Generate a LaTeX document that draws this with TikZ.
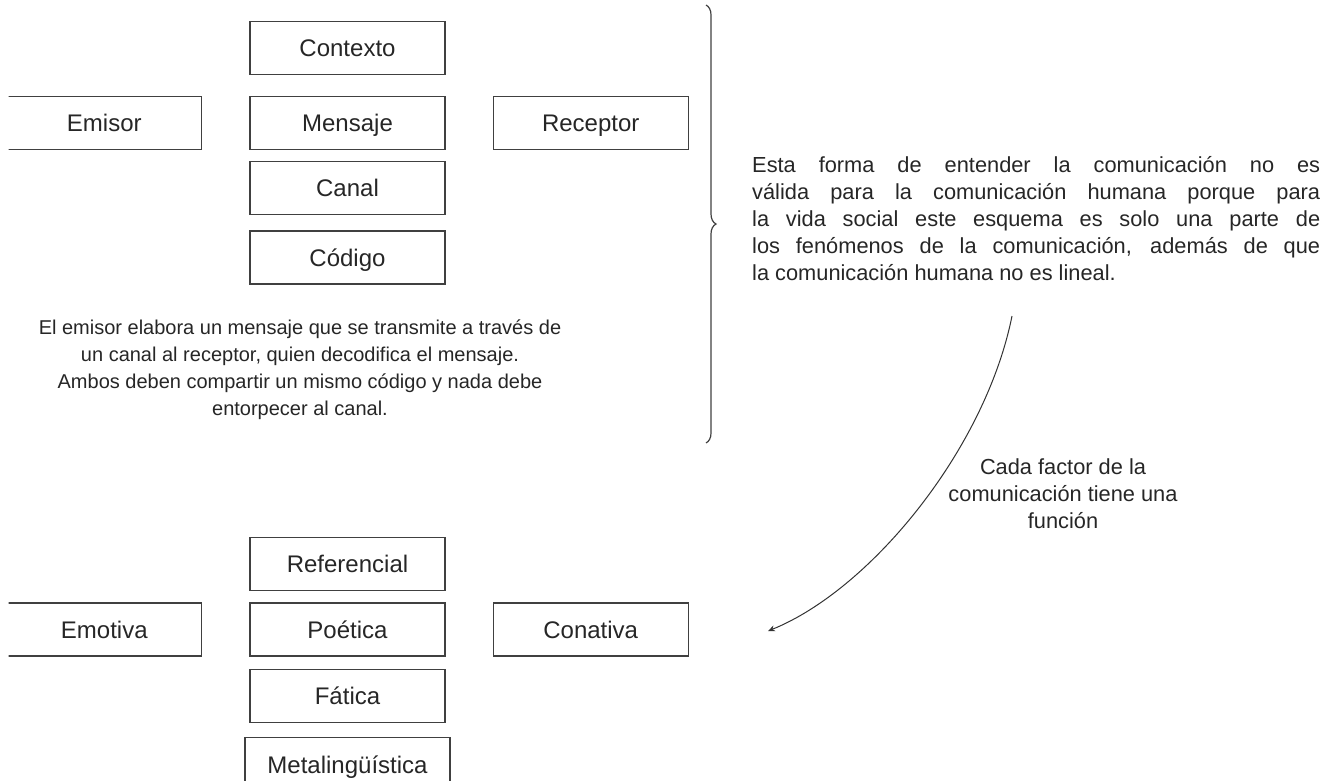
\documentclass[tikz,border=0pt]{standalone}
\usepackage{fontspec}
\setmainfont{Liberation Sans}
\usetikzlibrary{arrows.meta,positioning,decorations.pathreplacing}

\begin{document}
\begin{tikzpicture}[
  x=1pt, y=-1pt,
  node distance=11pt and 47pt,
  every node/.style={text=black!85, font=\fontsize{20}{27}\selectfont},
  factor/.style={draw=black!75, line width=1.2pt, minimum width=195pt, minimum height=53pt, inner sep=0pt,
    font=\fontsize{24}{27}\selectfont, text height=17.2pt, text depth=0pt},
  note/.style={align=center, inner sep=0pt},
  flow/.style={-{Stealth[length=7pt, width=6pt]}, draw=black!80, line width=1pt}
]
\useasboundingbox (0,0) rectangle (1329,780);
\clip (8.5,-10) rectangle (1340,800);

% elementos del esquema
\node[factor] (mensaje) at (347.5,123) {Mensaje};
\node[factor, above=21pt of mensaje] (contexto) {Contexto};
\node[factor, left=of mensaje] (emisor) {Emisor};
\node[factor, right=of mensaje] (receptor) {Receptor};
\node[factor, below=of mensaje] (canal) {Canal};
\node[factor, below=15pt of canal] (codigo) {Código};

\node[note, anchor=north] (modelo) at (300,320) {El emisor elabora un mensaje que se transmite a través de\\
  un canal al receptor, quien decodifica el mensaje.\\
  Ambos deben compartir un mismo código y nada debe\\
  entorpecer al canal.};

% llave y critica
\coordinate (bracetop) at (706,5);
\coordinate (bracebot) at (706,443);
\draw[draw=black!75, line width=1.2pt, decorate, decoration={brace, amplitude=10pt}] (bracetop) -- (bracebot);

\node[inner sep=0pt, text width=568pt, align=justify, anchor=north west,
  font=\fontsize{21.8}{27}\selectfont] (critica) at (752,156)
  {Esta forma de entender la comunicación no es\linebreak
   válida para la comunicación humana porque para\linebreak
   la vida social este esquema es solo una parte de\linebreak
   los fenómenos de la comunicación, además de que\linebreak
   la comunicación humana no es lineal.};

\node[note, anchor=north, font=\fontsize{21.8}{27}\selectfont] (funcion) at (1063,458) {Cada factor de la\\ comunicación tiene una\\ función};

% funciones
\node[factor] (poetica) at (347.5,629.5) {Poética};
\node[factor, above=of poetica] (referencial) {Referencial};
\node[factor, left=of poetica] (emotiva) {Emotiva};
\node[factor, right=of poetica] (conativa) {Conativa};
\node[factor, below=12pt of poetica] (fatica) {Fática};
\node[factor, minimum width=205pt, minimum height=54pt, below=14pt of fatica] (metaling) {Metalingüística};

\coordinate (arrowtop) at (1012,316);
\coordinate (arrowend) at (768,631);
\draw[flow] (arrowtop) .. controls (985,450) and (870,590) .. (arrowend);
\end{tikzpicture}
\end{document}
